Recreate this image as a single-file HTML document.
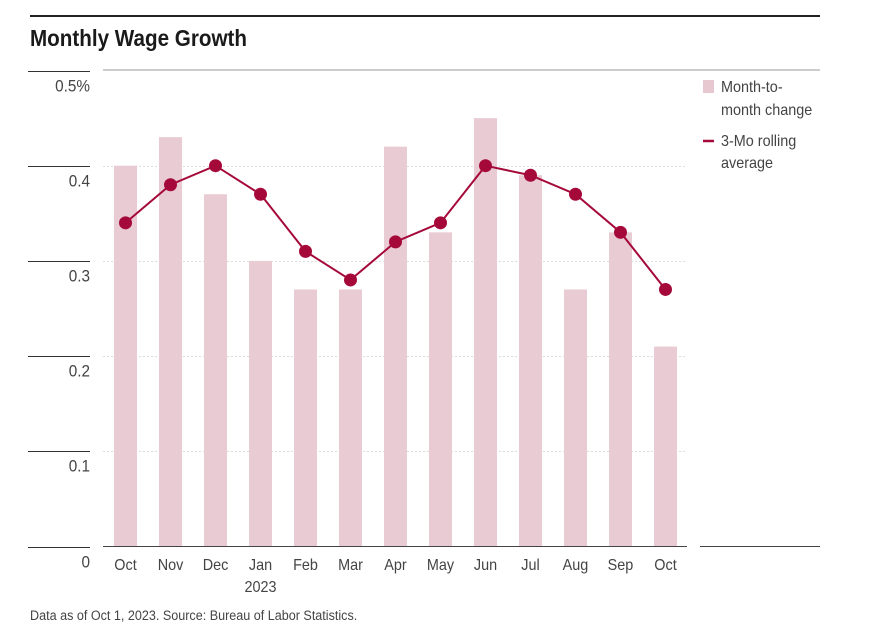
<!DOCTYPE html>
<html><head><meta charset="utf-8">
<style>
body{margin:0;background:#fff;}
svg text{font-family:"Liberation Sans Narrow","Liberation Sans",sans-serif;}
</style></head>
<body>
<svg id="chart" width="878" height="636" xmlns="http://www.w3.org/2000/svg">
<line x1="30" y1="16" x2="820" y2="16" stroke="#222" stroke-width="2"/>
<text x="30" y="46" font-size="23" font-weight="bold" fill="#1a1a1a" textLength="217" lengthAdjust="spacingAndGlyphs">Monthly Wage Growth</text>
<line x1="103" y1="70" x2="820" y2="70" stroke="#999" stroke-width="1"/>
<g id="grid"></g>
<g id="yaxis"></g>
<g id="bars"></g>
<g id="line"></g>
<g id="xaxis"></g>
<line x1="103" y1="546.5" x2="687" y2="546.5" stroke="#444" stroke-width="1"/>
<line x1="700" y1="546.5" x2="820" y2="546.5" stroke="#444" stroke-width="1"/>
<g>
<rect x="703" y="80" width="11" height="13" fill="#e8c8d0"/>
<text class="c" x="721" y="92" font-size="16" fill="#444">Month-to-</text>
<text class="c" x="721" y="115" font-size="16" fill="#444">month change</text>
<line x1="703" y1="141" x2="714" y2="141" stroke="#a5093a" stroke-width="2.5"/>
<text class="c" x="721" y="146" font-size="16" fill="#444">3-Mo rolling</text>
<text class="c" x="721" y="168" font-size="16" fill="#444">average</text>
</g>
<text class="c" x="30" y="620" font-size="14" fill="#444">Data as of Oct 1, 2023. Source: Bureau of Labor Statistics.</text>
</svg>
<script>
const categories=["Oct","Nov","Dec","Jan","Feb","Mar","Apr","May","Jun","Jul","Aug","Sep","Oct"];
const subLabels=["","","","2023","","","","","","","","",""];
const monthly=[0.40,0.43,0.37,0.30,0.27,0.27,0.42,0.33,0.45,0.39,0.27,0.33,0.21];
const rolling=[0.34,0.38,0.40,0.37,0.31,0.28,0.32,0.34,0.40,0.39,0.37,0.33,0.27];
const yTicks=[0,0.1,0.2,0.3,0.4,0.5];
const yTickLabels=["0","0.1","0.2","0.3","0.4","0.5%"];
const NS="http://www.w3.org/2000/svg";
function y(v){return 546.5-v*952;}
function x(i){return 125.5+i*45;}
function mk(tag,attrs,parent){const e=document.createElementNS(NS,tag);for(const k in attrs)e.setAttribute(k,attrs[k]);parent.appendChild(e);return e;}
const grid=document.getElementById('grid'),ya=document.getElementById('yaxis'),bars=document.getElementById('bars'),ln=document.getElementById('line'),xa=document.getElementById('xaxis');
yTicks.forEach((t,i)=>{
 const yy=Math.round(y(t))+0.5;
 if(t>0&&t<0.5){const g=mk('line',{x1:103,x2:687,y1:yy,y2:yy,stroke:'#ddd','stroke-dasharray':'2,2'},grid);
 
 }
 const tk=mk('line',{x1:28,x2:90,y1:yy,y2:yy,stroke:'#333'},ya);
 
 
 const tx=mk('text',{class:'c',x:90,y:yy+20,'text-anchor':'end','font-size':17,fill:'#444'},ya);
 tx.textContent=yTickLabels[i];
 
 
});
monthly.forEach((v,i)=>{
 const r=mk('rect',{x:x(i)-11.5,y:y(v),width:23,height:y(0)-y(v),fill:'#e9cbd3'},bars);
 
 
});
const p=mk('polyline',{points:rolling.map((v,i)=>x(i)+','+y(v)).join(' '),fill:'none',stroke:'#a5093a','stroke-width':2},ln);


rolling.forEach((v,i)=>{
 const c=mk('circle',{cx:x(i),cy:y(v),r:6.5,fill:'#a5093a'},ln);
 
 
});
categories.forEach((c,i)=>{
 const t=mk('text',{class:'c',x:x(i),y:570,'text-anchor':'middle','font-size':16,fill:'#444'},xa);
 t.textContent=c;
 
 
 if(subLabels[i]){const s=mk('text',{class:'c',x:x(i),y:592,'text-anchor':'middle','font-size':16,fill:'#444'},xa);
 s.textContent=subLabels[i];
 
 }
});
// condense text horizontally
document.querySelectorAll('text.c').forEach(t=>{
 const tx=t.getAttribute('x'),ty=t.getAttribute('y');
 t.setAttribute('x',0);t.setAttribute('y',0);
 t.setAttribute('transform','translate('+tx+','+ty+') scale(0.9,1)');
});
</script>
</body></html>
